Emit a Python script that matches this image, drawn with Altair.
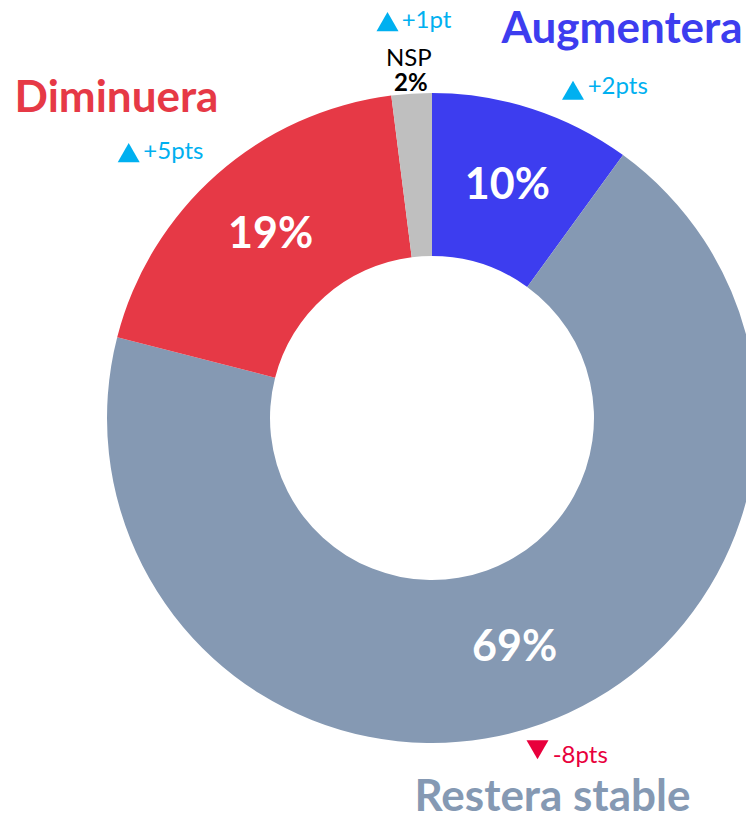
import altair as alt
import pandas as pd

categories = ["Augmentera", "Restera stable", "Diminuera", "NSP"]
values = [10, 69, 19, 2]
colors = ["#3d3def", "#8599b3", "#e63946", "#bfbfbf"]
changes = ["+2pts", "-8pts", "+5pts", "+1pt"]
directions = ["up", "down", "up", "up"]

df = pd.DataFrame({"cat": categories, "value": values, "order": list(range(len(values)))})

FONT = "Lato"
CX, CY = 424, 410
UP_C = "#00b0f0"
DOWN_C = "#e8003c"

base = alt.Chart(df).encode(
    theta=alt.Theta("value:Q", stack=True),
    order=alt.Order("order:Q"),
)

arcs = base.mark_arc(outerRadius=325, innerRadius=162, stroke=None).encode(
    color=alt.Color("cat:N", scale=alt.Scale(domain=categories, range=colors), legend=None),
    x=alt.value(CX),
    y=alt.value(CY),
)

pct = base.transform_calculate(
    label="datum.value > 5 ? datum.value + '%' : ''"
).mark_text(radius=244, font=FONT, fontWeight="bold", fontSize=43, color="white",
            baseline="middle", align="center").encode(
    text="label:N",
    x=alt.value(CX),
    y=alt.value(CY),
)

one = alt.Chart(df).transform_filter("datum.order == 0")


def note(txt, x, y, size, color, weight="normal", align="center"):
    return one.mark_text(
        font=FONT, fontSize=size, color=color, fontWeight=weight,
        align=align, baseline="alphabetic"
    ).encode(x=alt.value(x), y=alt.value(y), text=alt.value(txt))


def tri(direction, x, y):
    return one.mark_point(
        shape="triangle-up" if direction == "up" else "triangle-down",
        filled=True, size=484, opacity=1, strokeWidth=0,
        color=UP_C if direction == "up" else DOWN_C,
    ).encode(x=alt.value(x), y=alt.value(y))


def change(i, tx, ty, px, py):
    c = UP_C if directions[i] == "up" else DOWN_C
    return [tri(directions[i], px, py), note(changes[i], tx, ty, 24, c, align="left")]


layers = [
    arcs, pct,
    note(categories[0], 614, 34.7, 44, colors[0], "bold"),
    note(categories[2], 108.5, 103.7, 44, colors[2], "bold"),
    note(categories[1], 544.5, 803, 44, colors[1], "bold"),
    *change(0, 579.7, 86, 565, 82.3),
    *change(2, 135.3, 151, 120.7, 144.6),
    *change(3, 393.7, 19.5, 379.5, 13.6),
    *change(1, 544.7, 755.3, 529.5, 741.7),
    note(categories[3], 400.8, 58, 24, "black"),
    note(str(values[3]) + "%", 402.8, 82.7, 24, "black", "bold"),
]

chart = alt.layer(*layers).properties(
    width=738, height=806,
    autosize=alt.AutoSizeParams(type="none"),
    padding=0,
).configure_view(stroke=None)

chart.save("out.html", embed_options={"renderer": "svg", "actions": False})
